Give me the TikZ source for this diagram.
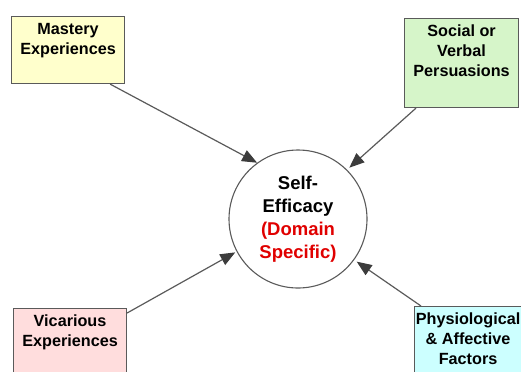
\documentclass[tikz,border=0pt]{standalone}
\usepackage{fontspec}
\setmainfont{Liberation Sans}
\usetikzlibrary{arrows.meta}
\definecolor{edgegray}{HTML}{5A5A5A}
\definecolor{tipgray}{HTML}{3C3C3C}
\definecolor{masteryfill}{HTML}{FFFFCC}
\definecolor{socialfill}{HTML}{D6F5C9}
\definecolor{vicarfill}{HTML}{FFDDDD}
\definecolor{physiofill}{HTML}{CCFFFF}
\definecolor{domainred}{HTML}{E00000}
\tikzset{
  srcbox/.style={draw=edgegray, line width=1.1bp, rectangle, inner sep=0pt, anchor=north west},
  srclabel/.style={anchor=north, inner xsep=0pt, inner ysep=7bp, align=center,
    font=\fontsize{16.2bp}{20bp}\selectfont\bfseries},
  hub/.style={draw=edgegray, line width=1.1bp, circle, minimum size=138bp, inner sep=0pt,
    align=center, font=\fontsize{18.5bp}{23bp}\selectfont\bfseries},
  influence/.style={draw=edgegray, line width=1.2bp,
    -{Triangle[length=15bp,width=12bp,color=tipgray]}}
}
\begin{document}
\begin{tikzpicture}[x=1bp, y=-1bp]
  \useasboundingbox (0,0) rectangle (521,371);
  \clip (0,0) rectangle (521,371);

  % four sources of efficacy beliefs
  \node[srcbox, fill=masteryfill, minimum width=113bp, minimum height=67bp] (m) at (11,16) {};
  \node[srclabel] (mt) at (m.north) {Mastery\\Experiences};

  \node[srcbox, fill=socialfill, minimum width=114bp, minimum height=89bp] (s) at (404,18) {};
  \node[srclabel] (st) at (s.north) {Social or\\Verbal\\Persuasions};

  \node[srcbox, fill=vicarfill, minimum width=113bp, minimum height=80bp] (v) at (13,308) {};
  \node[srclabel] (vt) at (v.north) {Vicarious\\Experiences};

  \node[srcbox, fill=physiofill, minimum width=112bp, minimum height=80bp] (p) at (414,306) {};
  \node[srclabel] (pt) at ([xshift=-2.5bp]p.north) {Physiological\\\& Affective\\Factors};

  % central construct
  \node[hub] (c) at (298,219) {Self-\\Efficacy\\\textcolor{domainred}{(Domain}\\\textcolor{domainred}{Specific)}};

  % influences
  \draw[influence] ([xshift=-15bp]m.south east) -- (c.126);
  \draw[influence] ([xshift=12bp]s.south west) -- ([shift={(45:3bp)}]c.45);
  \draw[influence] ([yshift=-5bp]v.north east) -- ([shift={(208:1.5bp)}]c.208);
  \draw[influence] ([xshift=7bp]p.north west) -- ([shift={(-36:3bp)}]c.-36);
\end{tikzpicture}
\end{document}
